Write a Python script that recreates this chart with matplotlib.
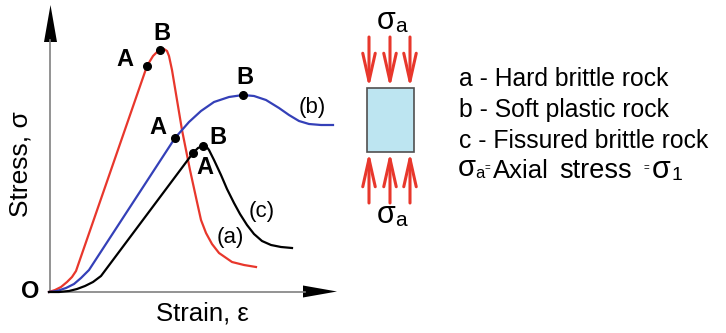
import matplotlib
matplotlib.use("Agg")
import matplotlib.pyplot as plt
from matplotlib.patches import Rectangle, Polygon

plt.rcParams['font.family'] = ['Liberation Sans', 'DejaVu Sans']

# stress-strain curves (arbitrary units)
strain_a = [0, 6, 12, 18, 23, 27, 98, 104, 108, 111, 115, 118, 120, 123, 133, 141, 148, 152, 157, 163, 170, 183, 195, 207]
stress_a = [0, 2, 5, 10, 15, 21, 226, 236, 240, 242, 243, 241, 236, 222, 162, 122, 90, 72, 59, 48, 39, 30, 27, 25]

strain_b = [0, 8, 17, 25, 32, 40, 126, 140, 152, 165, 180, 194, 205, 217, 230, 240, 250, 260, 272, 284]
stress_b = [0, 1, 4, 8, 14, 22, 154, 170, 181, 190, 195, 197, 196, 192, 184, 177, 171, 168, 167, 167]

strain_c = [0, 10, 20, 28, 36, 44, 52, 144, 149, 154, 157, 160, 165, 172, 178, 185, 191, 198, 205, 213, 222, 232, 243]
stress_c = [0, 0, 1, 3, 6, 10, 16, 139, 144, 146, 146, 142, 132, 117, 103, 89, 78, 67, 58, 51, 47, 45, 44]

# points A and B on each curve
pts_a = ([98, 111], [226, 242])
pts_b = ([126, 194], [154, 197])
pts_c = ([144, 154], [139, 146])

legend_lines = ["a - Hard brittle rock", "b - Soft plastic rock", "c - Fissured brittle rock"]

red = "#e8372c"
blue = "#3440b8"

fig = plt.figure(figsize=(7.26, 3.33), dpi=100)

# overlay in pixel coordinates for decorations
ov = fig.add_axes([0, 0, 1, 1])
ov.set_xlim(0, 726)
ov.set_ylim(333, 0)
ov.axis("off")

ax = fig.add_axes([49 / 726, 41 / 333, 288 / 726, 287 / 333])
ax.set_xlim(0, 288)
ax.set_ylim(0, 287)
ax.axis("off")

# axes with arrow heads
ov.plot([50, 305], [292, 292], color="#808080", lw=1.2)
ov.plot([50, 50], [292, 40], color="#808080", lw=1.2)
ov.add_patch(Polygon([[337, 291.5], [303, 285.5], [303, 297.5]], closed=True, color="black", lw=0))
ov.add_patch(Polygon([[50.5, 5], [44, 42], [57, 42]], closed=True, color="black", lw=0))

ax.plot(strain_a, stress_a, color=red, lw=1.6, clip_on=False, solid_joinstyle="round")
ax.plot(strain_b, stress_b, color=blue, lw=1.6, clip_on=False, solid_joinstyle="round")
ax.plot(strain_c, stress_c, color="black", lw=1.6, clip_on=False, solid_joinstyle="round")
for px, py in (pts_a, pts_b, pts_c):
    ax.plot(px, py, "o", color="black", ms=5.5, clip_on=False, zorder=5)

lbl = dict(fontsize=17, fontweight="bold", ha="center", va="center")
ax.text(76, 232, "A", **lbl)
ax.text(113, 259, "B", **lbl)
ax.text(109, 164, "A", **lbl)
ax.text(196, 214, "B", **lbl)
ax.text(169, 155, "B", **lbl)
ax.text(156, 125, "A", **lbl)
ax.text(263, 184, "(b)", fontsize=16, ha="center", va="center")
ax.text(213, 80, "(c)", fontsize=16, ha="center", va="center")
ax.text(181, 54, "(a)", fontsize=16, ha="center", va="center")

ov.text(30, 291, "O", fontsize=17, fontweight="bold", ha="center", va="center")
ov.text(21, 164, "Stress, σ", fontsize=19, rotation=90, ha="center", va="center")
ov.text(202, 314, "Strain, ε", fontsize=18.5, ha="center", va="center")

# specimen under axial load
ov.add_patch(Rectangle((367, 88), 47, 64, facecolor="#bde5f1", edgecolor="#505050", lw=1.2, zorder=3))
head = dict(arrowstyle="->,head_length=2.0,head_width=0.45", color=red, lw=2.2,
            mutation_scale=10, shrinkA=0, shrinkB=0)
for xa in [369, 390, 410]:
    ov.annotate("", xy=(xa, 88), xytext=(xa, 37), arrowprops=head)
    ov.annotate("", xy=(xa, 152), xytext=(xa, 203), arrowprops=head)
ov.text(386, 21, "σ", fontsize=22, ha="center", va="center")
ov.text(401, 26, "a", fontsize=15, ha="center", va="center")
ov.text(386, 215, "σ", fontsize=22, ha="center", va="center")
ov.text(401, 220, "a", fontsize=15, ha="center", va="center")

for i, line in enumerate(legend_lines):
    ov.text(459, 86 + 31 * i, line, fontsize=17.8, ha="left", va="baseline")
ov.text(466.5, 168, "σ", fontsize=21, ha="center", va="center")
ov.text(480, 174, "a", fontsize=12, ha="center", va="center")
ov.text(487.5, 168, "=", fontsize=7, ha="center", va="center")
ov.text(493, 178, "Axial", fontsize=18.5, ha="left", va="baseline")
ov.text(559, 178, "stress", fontsize=19.5, ha="left", va="baseline")
ov.text(646, 168, "=", fontsize=7, ha="center", va="center")
ov.text(661, 170, "σ", fontsize=22, ha="center", va="center")
ov.text(677, 176, "1", fontsize=14, ha="center", va="center")

fig.savefig("out.png", dpi=100)
